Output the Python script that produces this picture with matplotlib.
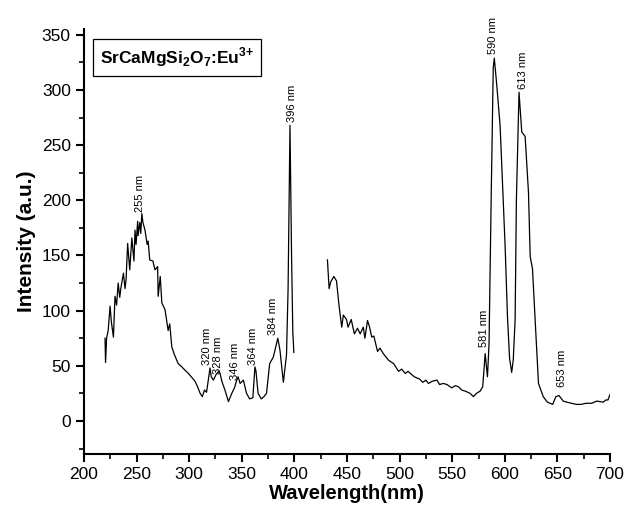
import matplotlib
matplotlib.use('Agg')
import matplotlib.pyplot as plt
from matplotlib.ticker import MultipleLocator

plt.rcParams['font.family'] = ['Liberation Sans', 'DejaVu Sans']
plt.rcParams['mathtext.fontset'] = 'custom'
plt.rcParams['mathtext.rm'] = 'Liberation Sans:bold'
plt.rcParams['mathtext.bf'] = 'Liberation Sans:bold'

# excitation spectrum (left part)
exc_nm = [220, 220.5, 221.5, 223, 224.8, 226, 228, 229.5, 231, 232.5, 234, 235, 237.5,
          239, 240, 241.5, 243.5, 245.5, 247.5, 248.5, 249.5, 251, 251.5, 253, 254, 255,
          256, 258, 260, 261, 262.5, 265.5, 267.5, 270, 270.5, 272.5, 274, 277, 280,
          281.5, 283.5, 286, 289.5, 293, 296, 299.3, 302, 305.5, 308, 310.4, 312.5,
          314.5, 316.5, 319.8, 321, 323, 325.5, 328, 329.4, 331, 334, 337.3, 340.5,
          343, 345.2, 346.5, 348.4, 351.5, 354.5, 357.5, 360.5, 362.5, 363.5, 365.5,
          368.5, 371, 373.5, 376.5, 380, 384.2, 386.3, 389.5, 392.5, 394, 395.8, 397.3,
          398.5, 399.5]
exc_int = [75, 53, 75, 82, 104, 90, 76, 113, 105, 125, 112, 120, 134,
           120, 128, 161, 137, 166, 145, 173, 160, 181, 168, 180, 170, 188,
           180, 173, 160, 163, 146, 145, 137, 140, 113, 131, 107, 101, 82,
           88, 67, 60, 52, 49, 46, 43, 40, 36, 31, 25, 22,
           28, 26, 48, 40, 37, 42, 45, 43, 36, 28, 17.5, 25,
           30, 37, 40, 34, 37, 25, 20, 21, 49, 45, 25,
           20, 22, 25, 52, 58, 75, 64, 35, 60, 120, 268, 150,
           80, 62]

# emission spectrum (right part)
emi_nm = [431.4, 433, 434.5, 437.5, 440, 442.5, 445, 446.5, 449.5, 451, 454, 457, 460,
          462.5, 465.5, 467, 469.5, 471.5, 473.5, 475.5, 479, 481.3, 484.5, 489.5, 494.3,
          499, 502, 505.5, 508, 511.5, 514, 516.5, 519, 522, 525, 527.4, 531, 535.5,
          538, 541.5, 545, 549.5, 553, 556, 559, 562.5, 567, 570.2, 573, 576.5, 579,
          581.3, 583.5, 585, 587, 589, 590, 592.3, 595.5, 597.7, 600.3, 602.5, 604.5,
          606.5, 608, 609.8, 611, 613.5, 616.1, 619.3, 622.5, 624.1, 626.3, 628.8, 632,
          636.5, 640.5, 645.5, 648.5, 651.5, 655.5, 659, 663.5, 668, 672.5, 677, 682.5,
          687.5, 693.5, 696, 698, 700]
emi_int = [146, 120, 126, 131, 127, 104, 85, 96, 92, 85, 92, 79, 84,
           79, 85, 75, 91, 85, 76, 77, 63, 66, 61, 55, 52,
           45, 47, 43, 45, 42, 40, 39, 38, 35, 37, 34, 36, 37,
           33, 34, 33, 30, 32, 31, 28, 27, 25, 22, 25, 27, 31,
           61, 40, 70, 200, 320, 329, 305, 268, 218, 158, 95, 57,
           44, 55, 92, 200, 298, 262, 258, 207, 149, 138, 92, 34,
           22, 17, 15, 22, 23, 18, 17, 16, 15, 15, 16, 16,
           18, 17, 19, 19, 24]

# peak annotations
peak_text = ['255 nm', '320 nm', '328 nm', '346 nm', '364 nm', '384 nm', '396 nm',
             '581 nm', '590 nm', '613 nm', '653 nm']
peak_x = [253, 316.5, 327.8, 343.5, 361, 380, 398, 580.5, 589, 617, 654]
peak_y = [189, 51, 43, 37, 51, 78, 271, 67, 333, 301, 31]

fig = plt.figure(figsize=(6.3, 5.07), dpi=100)
ax = fig.add_axes([0.1333, 0.1045, 0.835, 0.8375])

ax.plot(exc_nm, exc_int, color='black', lw=0.9)
ax.plot(emi_nm, emi_int, color='black', lw=0.9)

for t, x, y in zip(peak_text, peak_x, peak_y):
    ax.text(x, y, t, rotation=90, ha='center', va='bottom', fontsize=8)

ax.text(0.03, 0.962, r'SrCaMgSi$_\mathbf{2}$O$_\mathbf{7}$:Eu$^{\mathbf{3}{\mathbf{+}}}$',
        transform=ax.transAxes, ha='left', va='top', fontsize=12.5, fontweight='bold',
        bbox=dict(boxstyle='square,pad=0.4', fc='white', ec='black', lw=0.9))

ax.set_xlim(200, 700)
ax.set_ylim(-30, 355)
ax.xaxis.set_major_locator(MultipleLocator(50))
ax.xaxis.set_minor_locator(MultipleLocator(25))
ax.yaxis.set_major_locator(MultipleLocator(50))
ax.yaxis.set_minor_locator(MultipleLocator(25))

ax.spines['top'].set_visible(False)
ax.spines['right'].set_visible(False)
ax.spines['left'].set_linewidth(1.5)
ax.spines['bottom'].set_linewidth(1.5)
ax.tick_params(which='major', direction='out', length=6, width=1.5, labelsize=12.5)
ax.tick_params(which='minor', direction='out', length=3.5, width=1.2)

ax.set_xlabel('Wavelength(nm)', fontsize=14.5, fontweight='bold', labelpad=1)
ax.set_ylabel('Intensity (a.u.)', fontsize=15, fontweight='bold', labelpad=4)

fig.savefig('out.png', dpi=100)
